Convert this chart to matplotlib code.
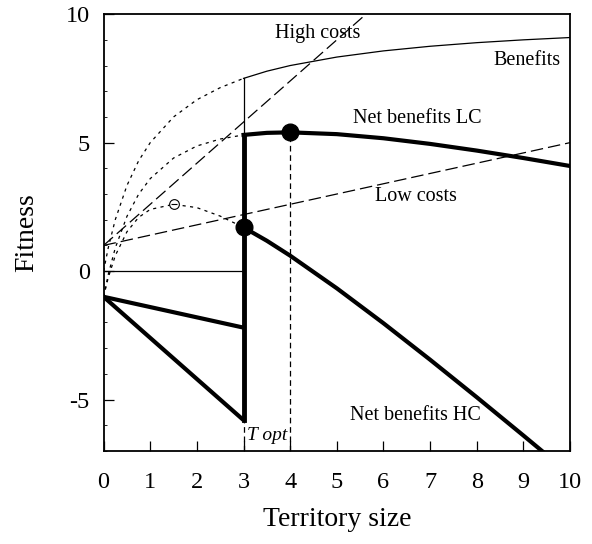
import matplotlib
matplotlib.use('Agg')
import matplotlib.pyplot as plt

plt.rcParams['font.family'] = ['Liberation Serif', 'DejaVu Serif']
plt.rcParams['axes.unicode_minus'] = False

# curves
# before the threshold (territory size < 3), shown dotted
x_pre = [0, 0.1, 0.25, 0.5, 0.75, 1, 1.5, 2, 2.5, 3]
benefits_pre = [0, 0.91, 2.0, 3.33, 4.29, 5.0, 6.0, 6.67, 7.14, 7.5]
net_lc_pre = [-1, -0.13, 0.9, 2.13, 2.99, 3.6, 4.4, 4.87, 5.14, 5.3]
net_hc_pre = [-1, -0.25, 0.6, 1.53, 2.09, 2.4, 2.6, 2.47, 2.14, 1.7]

# after the threshold, solid / thick
x_post = [3, 3.5, 4, 5, 6, 7, 8, 9, 10]
benefits_post = [7.5, 7.78, 8.0, 8.33, 8.57, 8.75, 8.89, 9.0, 9.09]
net_lc_post = [5.3, 5.38, 5.4, 5.33, 5.17, 4.95, 4.69, 4.4, 4.09]
net_hc_post = [1.7, 1.18, 0.6, -0.67, -2.03, -3.45, -4.91, -6.4, -7.91]

# cost lines
low_cost_x = [0, 10]
low_cost_y = [1, 5]
high_cost_x = [0, 5.625]
high_cost_y = [1, 10]

# fitness with no territory benefit (x < 3)
no_terr_x = [0, 3]
no_terr_lc = [-1, -2.2]
no_terr_hc = [-1, -5.8]

t_opt = 4
hc_max = (1.5, 2.6)

fig = plt.figure(figsize=(5.92, 5.44), dpi=100)
ax = fig.add_axes([0.175, 0.171, 0.788, 0.803])

thick = 3.0
thin = 0.9

# dotted extensions
ax.plot(x_pre, benefits_pre, color='black', lw=thin, dashes=(2.5, 3.5))
ax.plot(x_pre, net_lc_pre, color='black', lw=thin, dashes=(2.5, 3.5))
ax.plot(x_pre, net_hc_pre, color='black', lw=thin, dashes=(2.5, 3.5))

# cost lines
ax.plot(low_cost_x, low_cost_y, color='black', lw=thin, dashes=(10, 4))
ax.plot(high_cost_x, high_cost_y, color='black', lw=thin, dashes=(10, 4))

# benefits
ax.plot(x_post, benefits_post, color='black', lw=thin)
ax.plot([0, 3], [0, 0], color='black', lw=thin)
ax.plot([3, 3], [0, benefits_post[0]], color='black', lw=thin)

# net benefits
ax.plot(no_terr_x, no_terr_lc, color='black', lw=thick, solid_capstyle='butt')
ax.plot(no_terr_x, no_terr_hc, color='black', lw=thick, solid_capstyle='butt')
ax.plot([3, 3], [no_terr_hc[1], net_lc_post[0]], color='black', lw=thick + 0.5)
ax.plot(x_post, net_lc_post, color='black', lw=thick)
ax.plot(x_post, net_hc_post, color='black', lw=thick)

# optimum markers
ax.plot([t_opt, t_opt], [-7, net_lc_post[2]], color='black', lw=thin, dashes=(4.5, 3))
ax.plot([3, 3], [-7, no_terr_hc[1]], color='black', lw=thin, dashes=(4.5, 3))
ax.plot([3], [net_hc_post[0]], 'o', color='black', ms=12)
ax.plot([t_opt], [net_lc_post[2]], 'o', color='black', ms=12)
ax.plot([hc_max[0]], [hc_max[1]], 'o', mfc='white', mec='black', ms=7, mew=0.8)
ax.plot([hc_max[0]], [hc_max[1]], '_', color='black', ms=4, mew=0.8)

# labels
fs = 14.5
ax.text(4.58, 9.26, 'High costs', fontsize=fs, ha='center', va='center')
ax.text(9.07, 8.2, 'Benefits', fontsize=fs, ha='center', va='center')
ax.text(6.72, 5.95, 'Net benefits LC', fontsize=fs, ha='center', va='center')
ax.text(6.7, 2.9, 'Low costs', fontsize=fs, ha='center', va='center')
ax.text(6.68, -5.6, 'Net benefits HC', fontsize=fs, ha='center', va='center')
ax.text(3.5, -6.4, 'T opt', fontsize=14, style='italic', ha='center', va='center')

ax.set_xlim(0, 10)
ax.set_ylim(-7, 10)
ax.set_xticks(range(0, 11))
ax.set_yticks([-5, 0, 5, 10])
ax.set_yticks(range(-7, 11), minor=True)
ax.tick_params(axis='both', which='major', direction='in', length=7, width=0.9, labelsize=17.5)
ax.tick_params(axis='y', which='minor', direction='in', length=2.5, width=0.6)
ax.tick_params(axis='x', which='major', pad=15)
ax.tick_params(axis='y', which='major', pad=10)
for s in ax.spines.values():
    s.set_linewidth(1.3)

ax.set_xlabel('Territory size', fontsize=20, labelpad=10)
ax.set_ylabel('Fitness', fontsize=20, labelpad=19)

fig.savefig('out.png', dpi=100)
